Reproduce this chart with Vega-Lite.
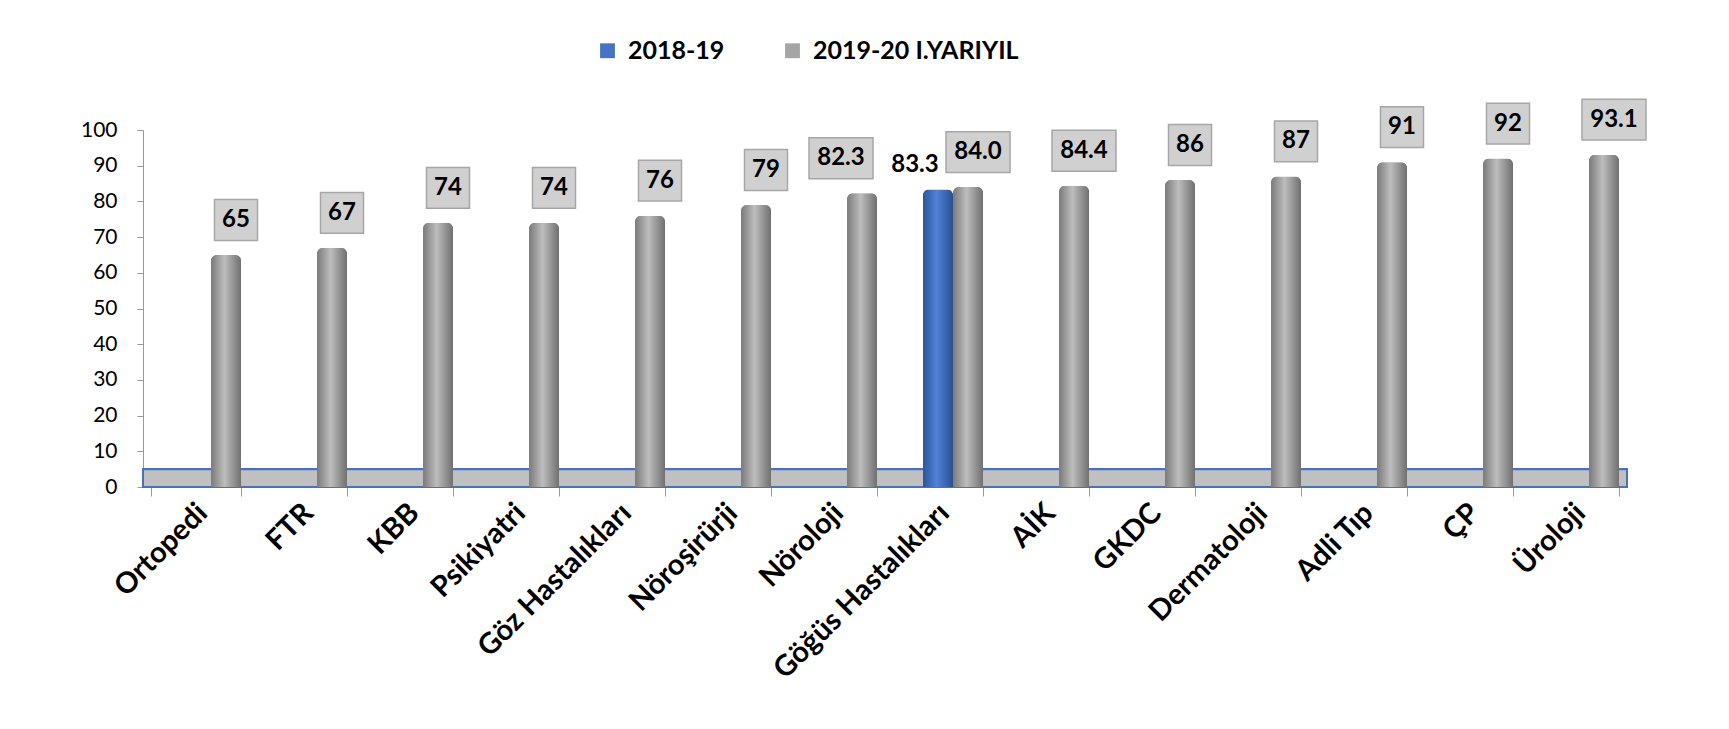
{
  "$schema": "https://vega.github.io/schema/vega-lite/v6.json",
  "width": 1484,
  "height": 357,
  "autosize": "none",
  "padding": {"left": 143, "top": 130, "right": 102, "bottom": 242},
  "background": "white",
  "config": {
    "view": {"stroke": null},
    "font": "Lato",
    "axisX": {
      "title": null,
      "labelAngle": -45,
      "labelAlign": "right",
      "labelBaseline": "middle",
      "labelFont": "Lato",
      "labelFontSize": 29,
      "labelFontWeight": "bold",
      "labelColor": "#000000",
      "labelPadding": 12,
      "labelOffset": 6,
      "tickBand": "extent",
      "tickSize": 9,
      "tickColor": "#9a9a9a",
      "domainColor": "#9a9a9a",
      "labelLimit": 400
    },
    "axisY": {
      "title": null,
      "grid": false,
      "labelOverlap": false,
      "labelFont": "Lato",
      "labelFontSize": 21,
      "labelColor": "#000000",
      "labelPadding": 20,
      "tickSize": 6,
      "tickColor": "#9a9a9a",
      "domainColor": "#9a9a9a"
    }
  },
  "data": {
    "values": [
      {"dept": "Ortopedi", "series": "2019-20 I.YARIYIL", "value": 65, "label": "65"},
      {"dept": "FTR", "series": "2019-20 I.YARIYIL", "value": 67, "label": "67"},
      {"dept": "KBB", "series": "2019-20 I.YARIYIL", "value": 74, "label": "74"},
      {"dept": "Psikiyatri", "series": "2019-20 I.YARIYIL", "value": 74, "label": "74"},
      {"dept": "Göz Hastalıkları", "series": "2019-20 I.YARIYIL", "value": 76, "label": "76"},
      {"dept": "Nöroşirürji", "series": "2019-20 I.YARIYIL", "value": 79, "label": "79"},
      {"dept": "Nöroloji", "series": "2019-20 I.YARIYIL", "value": 82.3, "label": "82.3"},
      {"dept": "Göğüs Hastalıkları", "series": "2018-19", "value": 83.3, "label": "83.3"},
      {"dept": "Göğüs Hastalıkları", "series": "2019-20 I.YARIYIL", "value": 84.0, "label": "84.0"},
      {"dept": "AİK", "series": "2019-20 I.YARIYIL", "value": 84.4, "label": "84.4"},
      {"dept": "GKDC", "series": "2019-20 I.YARIYIL", "value": 86, "label": "86"},
      {"dept": "Dermatoloji", "series": "2019-20 I.YARIYIL", "value": 87, "label": "87"},
      {"dept": "Adli Tıp", "series": "2019-20 I.YARIYIL", "value": 91, "label": "91"},
      {"dept": "ÇP", "series": "2019-20 I.YARIYIL", "value": 92, "label": "92"},
      {"dept": "Üroloji", "series": "2019-20 I.YARIYIL", "value": 93.1, "label": "93.1"}
    ]
  },
  "encoding": {
    "x": {"field": "dept", "type": "nominal", "sort": null, "scale": {"paddingInner": 0.15, "paddingOuter": 0.075}},
    "y": {"field": "value", "type": "quantitative", "scale": {"domain": [0, 100]}, "axis": {"values": [0, 10, 20, 30, 40, 50, 60, 70, 80, 90, 100]}}
  },
  "layer": [
    {
      "mark": {"type": "rect", "fill": "#c0c0c0", "stroke": "#4472c4", "strokeWidth": 2},
      "encoding": {
        "x": {"value": 0},
        "x2": {"value": "width"},
        "y": {"datum": 0, "type": "quantitative", "axis": {"values": [0, 10, 20, 30, 40, 50, 60, 70, 80, 90, 100]}},
        "y2": {"datum": 5}
      }
    },
    {
      "mark": {"type": "bar", "cornerRadiusTopLeft": 6, "cornerRadiusTopRight": 6},
      "encoding": {
        "xOffset": {"field": "series", "type": "nominal", "scale": {"domain": ["pad", "2018-19", "2019-20 I.YARIYIL"], "paddingInner": 0, "paddingOuter": 0}},
        "color": {
          "field": "series",
          "type": "nominal",
          "scale": {"domain": ["2018-19", "2019-20 I.YARIYIL"], "range": ["#4472c4", "#a5a5a5"]},
          "legend": {
            "title": null,
            "orient": "none",
            "direction": "horizontal",
            "legendX": 452,
            "legendY": -92,
            "symbolType": "square",
            "symbolSize": 220,
            "symbolStrokeWidth": 0,
            "labelFont": "Lato",
            "labelFontSize": 25,
            "labelFontWeight": "bold",
            "labelColor": "#000000",
            "labelLimit": 500,
            "columnPadding": 55,
            "labelOffset": 8
          }
        }
      }
    },
    {
      "mark": {"type": "bar", "cornerRadiusTopLeft": 6, "cornerRadiusTopRight": 6},
      "encoding": {
        "xOffset": {"field": "series", "type": "nominal"},
        "fill": {
          "condition": {
            "test": "datum.series === '2018-19'",
            "value": {"gradient": "linear", "x1": 0, "x2": 1, "y1": 0, "y2": 0,
              "stops": [{"offset": 0, "color": "#2d5597"}, {"offset": 0.45, "color": "#4f82d8"}, {"offset": 1, "color": "#2a4f8e"}]}
          },
          "value": {"gradient": "linear", "x1": 0, "x2": 1, "y1": 0, "y2": 0,
            "stops": [{"offset": 0, "color": "#7a7a7a"}, {"offset": 0.45, "color": "#bdbdbd"}, {"offset": 1, "color": "#707070"}]}
        }
      }
    },
    {
      "transform": [{"filter": "datum.series === '2019-20 I.YARIYIL' && datum.dept !== 'Nöroloji'"}],
      "mark": {"type": "point", "filled": true, "fill": "#d0d0d0", "stroke": "#a6a6a6", "strokeWidth": 1.5, "opacity": 1, "yOffset": -35, "xOffset": 40},
      "encoding": {
        "shape": {
          "condition": {"test": "length(datum.label) > 2", "value": "M-1,-0.64H1V0.64H-1Z"},
          "value": "M-1,-0.95H1V0.95H-1Z"
        },
        "size": {
          "condition": {"test": "length(datum.label) > 2", "value": 4096},
          "value": 1849
        }
      }
    },
    {
      "transform": [{"filter": "datum.series === '2019-20 I.YARIYIL' && datum.dept !== 'Nöroloji'"}],
      "mark": {"type": "text", "font": "Lato", "fontSize": 24, "fontWeight": "bold", "color": "#000000", "yOffset": -35, "xOffset": 40, "baseline": "middle"},
      "encoding": {
        "text": {"field": "label", "type": "nominal"}
      }
    },
    {
      "transform": [{"filter": "datum.series === '2019-20 I.YARIYIL' && datum.dept === 'Nöroloji'"}],
      "mark": {"type": "point", "filled": true, "fill": "#d0d0d0", "stroke": "#a6a6a6", "strokeWidth": 1.5, "opacity": 1, "yOffset": -35, "xOffset": 9, "shape": "M-1,-0.64H1V0.64H-1Z", "size": 4096},
      "encoding": {}
    },
    {
      "transform": [{"filter": "datum.series === '2019-20 I.YARIYIL' && datum.dept === 'Nöroloji'"}],
      "mark": {"type": "text", "font": "Lato", "fontSize": 24, "fontWeight": "bold", "color": "#000000", "yOffset": -35, "xOffset": 9, "baseline": "middle"},
      "encoding": {
        "text": {"field": "label", "type": "nominal"}
      }
    },
    {
      "transform": [{"filter": "datum.series === '2018-19'"}],
      "mark": {"type": "text", "font": "Lato", "fontSize": 24, "fontWeight": "bold", "color": "#000000", "yOffset": -25, "xOffset": -23, "baseline": "middle"},
      "encoding": {
        "text": {"field": "label", "type": "nominal"}
      }
    }
  ]
}
